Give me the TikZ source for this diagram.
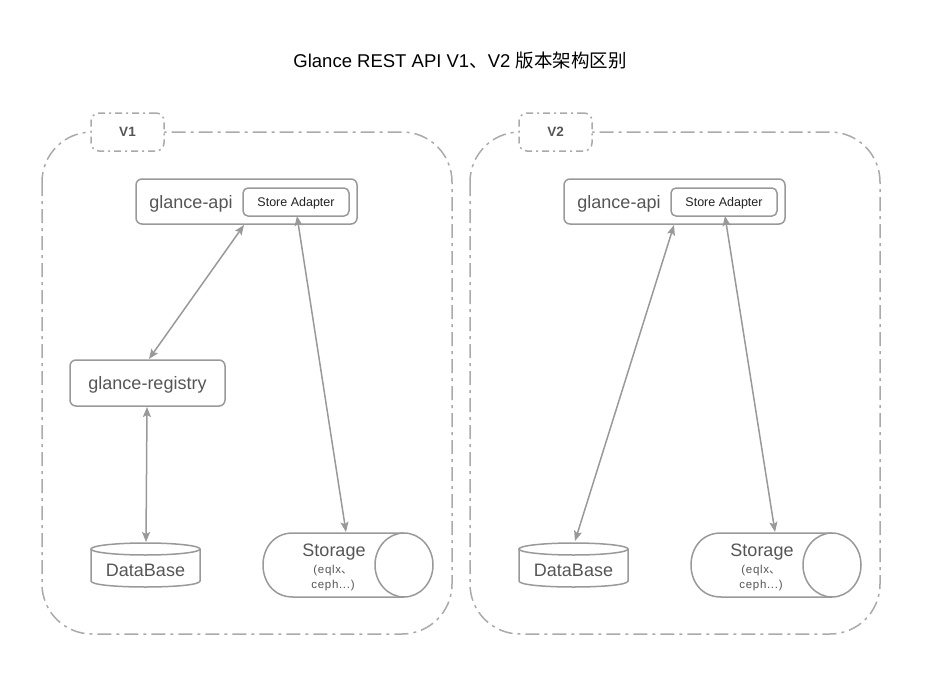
\documentclass[tikz,border=0pt]{standalone}
\usepackage{fontspec}
\setmainfont{Liberation Sans}
\newfontfamily\cjk{Noto Sans CJK SC}
\usetikzlibrary{arrows.meta}
\definecolor{gc}{HTML}{AAAAAA}
\definecolor{bc}{HTML}{999999}
\definecolor{ac}{HTML}{999999}
\definecolor{tc}{HTML}{555555}
\definecolor{dk}{HTML}{222222}
\begin{document}
\begin{tikzpicture}[x=1pt,y=-1pt,
  grp/.style={draw=gc, line width=1.5pt, dash pattern=on 14pt off 5pt on 3pt off 5pt, rounded corners=50pt},
  lbl/.style={draw=gc, fill=white, line width=1.5pt, dash pattern=on 7pt off 4pt on 2pt off 4pt, rounded corners=8pt, minimum width=73pt, minimum height=38pt, inner sep=0pt, font=\bfseries\fontsize{13.5}{15}\selectfont, text=tc},
  outer/.style={draw=bc, line width=1.5pt, rounded corners=6pt, minimum width=221pt, minimum height=45pt, inner sep=0pt},
  inner/.style={draw=bc, line width=1.5pt, rounded corners=5pt, minimum width=106pt, minimum height=28pt, inner sep=0pt, font=\fontsize{12.5}{14}\selectfont, text=dk, text height=9pt, text depth=0pt},
  regbox/.style={draw=bc, line width=1.5pt, rounded corners=6pt, minimum width=155pt, minimum height=46pt, inner sep=0pt, font=\fontsize{18}{20}\selectfont, text=tc, text height=13pt, text depth=0pt},
  big/.style={font=\fontsize{18}{20}\selectfont, text=tc, inner sep=0pt, text height=13pt, text depth=0pt},
  small/.style={font=\fontsize{11.5}{15}\selectfont, text=tc, inner sep=0pt, align=center},
  shp/.style={draw=bc, line width=1.5pt},
  arr/.style={draw=ac, line width=1.5pt, {Stealth[length=10pt,width=8pt,inset=2pt]}-{Stealth[length=10pt,width=8pt,inset=2pt]}}
]
\useasboundingbox (0,0) rectangle (926,685);

% title
\node[font=\fontsize{18.5}{22}\selectfont, text=black, inner sep=0pt] (title) at (460,60) {Glance REST API V1{\cjk 、}V2 {\cjk 版本架构区别}};

% ===== V1 =====
\draw[grp] (42,132) rectangle (452,634);
\node[lbl] (v1) at (127.5,132) {V1};
\node[outer] (api1) at (246.5,201.5) {};
\node[big] (apit1) at (191,202) {glance-api};
\node[inner] (sa1) at (296,202) {Store Adapter};
\node[regbox] (reg1) at (147.5,383) {glance-registry};
% database
\draw[shp] (145.5,549) ellipse [x radius=54.5, y radius=6];
\draw[shp] (91,549) -- (91,581) .. controls (91,589) and (200,589) .. (200,581) -- (200,549);
\node[big] (db1) at (145.5,570) {DataBase};
% storage
\draw[shp] (404,533) -- (293,533) .. controls (253,533) and (253,597) .. (293,597) -- (404,597);
\draw[shp] (404,565) ellipse [x radius=29, y radius=32];
\node[big] (st1) at (334,550) {Storage};
\node[small] (sts1) at (333,578) {\addfontfeature{LetterSpace=6}(eqlx{\cjk 、}\\\addfontfeature{LetterSpace=6}ceph...)};
% connection points
\coordinate (a1s) at (244,225);
\coordinate (r1n) at (149,359);
\coordinate (s1s) at (297,216);
\coordinate (st1n) at (346,532);
\coordinate (r1s) at (147,407);
\coordinate (db1n) at (146,542);
\draw[arr] (a1s) -- (r1n);
\draw[arr] (s1s) -- (st1n);
\draw[arr] (r1s) -- (db1n);

% ===== V2 =====
\draw[grp] (470,132) rectangle (880,634);
\node[lbl] (v2) at (555.5,132) {V2};
\node[outer] (api2) at (674.5,201.5) {};
\node[big] (apit2) at (619,202) {glance-api};
\node[inner] (sa2) at (724,202) {Store Adapter};
% database
\draw[shp] (573.5,549) ellipse [x radius=54.5, y radius=6];
\draw[shp] (519,549) -- (519,581) .. controls (519,589) and (628,589) .. (628,581) -- (628,549);
\node[big] (db2) at (573.5,570) {DataBase};
% storage
\draw[shp] (832,533) -- (721,533) .. controls (681,533) and (681,597) .. (721,597) -- (832,597);
\draw[shp] (832,565) ellipse [x radius=29, y radius=32];
\node[big] (st2) at (762,550) {Storage};
\node[small] (sts2) at (761,578) {\addfontfeature{LetterSpace=6}(eqlx{\cjk 、}\\\addfontfeature{LetterSpace=6}ceph...)};
\coordinate (a2s) at (674,225);
\coordinate (db2n) at (575,541);
\coordinate (s2s) at (725,216);
\coordinate (st2n) at (775,532);
\draw[arr] (a2s) -- (db2n);
\draw[arr] (s2s) -- (st2n);
\end{tikzpicture}
\end{document}
